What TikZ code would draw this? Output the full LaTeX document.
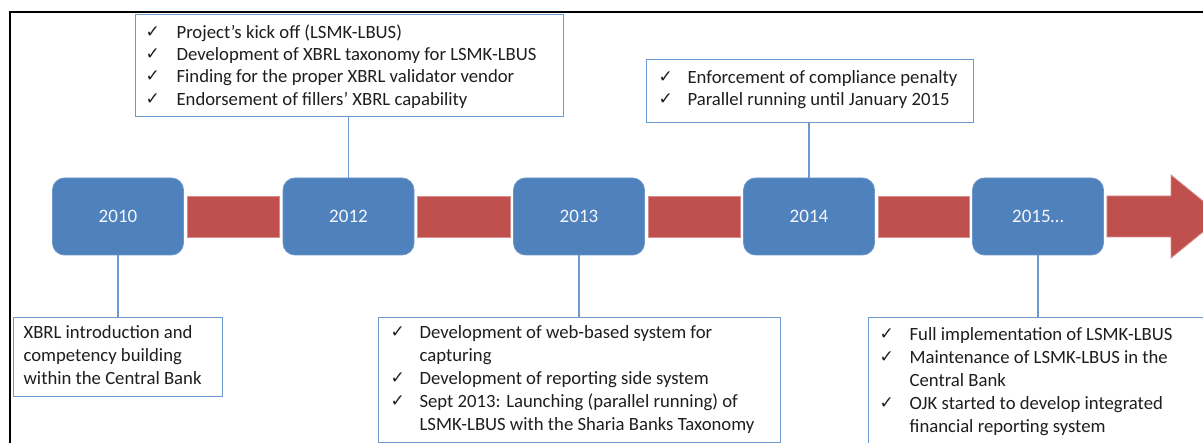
\documentclass[tikz,border=0pt]{standalone}
\usepackage{fontspec}
\setmainfont{Carlito}
\newfontfamily\ckfont{DejaVu Sans}
\usetikzlibrary{calc}
\definecolor{yrblue}{HTML}{4F81BD}
\definecolor{yredge}{HTML}{6C96CA}
\definecolor{barred}{HTML}{C0504D}
\definecolor{baredge}{HTML}{D88E8C}
\definecolor{tbline}{HTML}{6E9AD2}
\definecolor{txt}{HTML}{1E1E1E}
\newcommand{\ckitem}[3]{\hangindent=#2\hangafter=1\hspace*{#1}\makebox[\dimexpr#2-#1\relax][l]{\raisebox{1pt}{\ckfont\fontsize{17pt}{17pt}\selectfont ✓}}#3\par}
\newcommand{\boxtext}[5]{\parbox[t][#2][t]{#1}{\fontsize{18.7pt}{#3}\selectfont\rightskip=0pt plus 1fil\parfillskip=0pt plus 1fil\parskip=0pt\noindent\rule{0pt}{#4}#5}}
\tikzset{
  yr/.style={rounded corners=12pt, fill=yrblue, draw=yredge, line width=0.8pt,
    minimum width=131pt, minimum height=77pt, inner sep=0pt, text=white!94!yrblue,
    font=\fontsize{19pt}{22pt}\selectfont},
  tbox/.style={draw=tbline, line width=1.2pt, fill=white, inner sep=0pt, anchor=north west, text=txt},
  conn/.style={draw=tbline, line width=1.2pt},
  bar/.style={fill=barred, draw=baredge, line width=0.8pt},
  frame/.style={draw=black, line width=2pt}
}
\begin{document}
\begin{tikzpicture}[x=1pt,y=-1pt]
\useasboundingbox (0,0) rectangle (1203,443);
\clip (0,0) rectangle (1203,443);
\fill[white] (0,0) rectangle (1203,443);
% outer frame
\draw[frame] (10,470) -- (10,12) -- (1230,12);

% year boxes
\node[yr] (y10) at (118,216.5) {2010};
\node[yr] (y12) at (348.5,216.5) {2012};
\node[yr] (y13) at (579,216.5) {2013};
\node[yr] (y14) at (809,216.5) {2014};
\node[yr] (y15) at (1038,216.5) {2015…};

% red bars
\draw[bar] ($(y10.east)+(3,-20.5)$) rectangle ($(y12.west)+(-3,20.5)$);
\draw[bar] ($(y12.east)+(3,-20.5)$) rectangle ($(y13.west)+(-3,20.5)$);
\draw[bar] ($(y13.east)+(3,-20.5)$) rectangle ($(y14.west)+(-3,20.5)$);
\draw[bar] ($(y14.east)+(3,-20.5)$) rectangle ($(y15.west)+(-3,20.5)$);
\coordinate (tip) at (1222,216.5);
\draw[bar] ($(y15.east)+(3,-20.5)$) -- (1171,196) -- (1171,175) -- (tip)
  -- (1171,258) -- (1171,237) -- ($(y15.east)+(3,20.5)$) -- cycle;

% text boxes
\node[tbox] (t12) at (135,14) {\boxtext{428pt}{102pt}{22.4pt}{23.5pt}{%
\ckitem{10pt}{41pt}{Project’s kick off (LSMK-LBUS)}%
\ckitem{10pt}{41pt}{Development of XBRL taxonomy for LSMK-LBUS}%
\ckitem{10pt}{41pt}{Finding for the proper XBRL validator vendor}%
\ckitem{10pt}{41pt}{Endorsement of fillers’ XBRL capability}}};

\node[tbox] (t14) at (646,59) {\boxtext{327pt}{63pt}{22.4pt}{23.5pt}{%
\ckitem{12pt}{41pt}{Enforcement of compliance penalty}%
\ckitem{12pt}{41pt}{Parallel running until January 2015}}};

\node[tbox] (b10) at (13,317) {\boxtext{209pt}{79pt}{23pt}{21pt}{%
\leftskip=10pt\relax XBRL introduction and\\competency building\\within the Central Bank\par}};

\node[tbox] (b13) at (378,317) {\boxtext{402pt}{125pt}{23.2pt}{20.5pt}{%
\ckitem{12pt}{41pt}{Development of web-based system for\\capturing}%
\ckitem{12pt}{41pt}{Development of reporting side system}%
\ckitem{12pt}{41pt}{Sept 2013: Launching (parallel running) of\\LSMK-LBUS with the Sharia Banks Taxonomy}}};

\node[tbox] (b15) at (868,317) {\boxtext{347pt}{145pt}{23.2pt}{22.5pt}{%
\ckitem{11pt}{41pt}{Full implementation of LSMK-LBUS}%
\ckitem{11pt}{41pt}{Maintenance of LSMK-LBUS in the\\Central Bank}%
\ckitem{11pt}{41pt}{OJK started to develop integrated\\financial reporting system}}};

% connectors
\draw[conn] (t12.south -| y12.north) -- (y12.north);
\draw[conn] (t14.south -| y14.north) -- (y14.north);
\draw[conn] (y10.south) -- (y10.south |- b10.north);
\draw[conn] (y13.south) -- (y13.south |- b13.north);
\draw[conn] (y15.south) -- (y15.south |- b15.north);
\end{tikzpicture}
\end{document}
